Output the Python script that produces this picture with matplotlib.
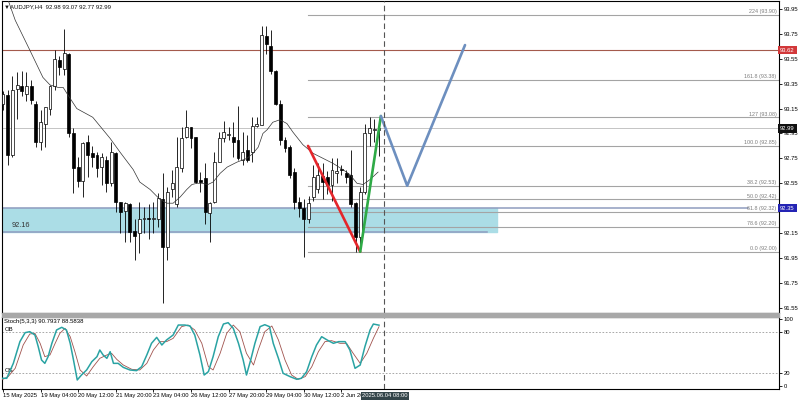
import matplotlib
matplotlib.use('Agg')
import matplotlib.pyplot as plt
import matplotlib.transforms as mtransforms
from matplotlib.patches import Rectangle

plt.rcParams['font.family'] = ['Liberation Sans', 'DejaVu Sans']

# H4 candles, index 0 = 15 May 2025 20:00
opens = [93.19, 93.26, 92.78, 93.31, 93.33, 93.27, 93.33, 93.19, 92.88, 93.03,
         93.15, 93.33, 93.54, 93.47, 93.59, 92.95, 92.68, 92.57, 92.88, 92.79,
         92.78, 92.68, 92.74, 92.55, 92.79, 92.40, 92.33, 92.38, 92.17, 92.15,
         92.26, 92.27, 92.26, 92.26, 92.42, 92.04, 92.50, 92.38, 92.67, 92.92,
         93.00, 92.92, 92.58, 92.59, 92.31, 92.40, 92.72, 92.91, 92.94, 92.92,
         92.90, 92.74, 92.82, 92.80, 93.01, 93.02, 93.73, 93.65, 93.45, 93.19,
         92.90, 92.84, 92.64, 92.40, 92.35, 92.26, 92.44, 92.50, 92.61, 92.60,
         92.54, 92.63, 92.665, 92.635, 92.62, 92.39, 92.12, 92.48, 92.95, 92.98,
         92.98]
highs = [93.29, 93.30, 93.41, 93.44, 93.45, 93.44, 93.38, 93.21, 93.14, 93.16,
         93.34, 93.62, 93.57, 93.79, 93.60, 92.99, 92.76, 92.88, 92.94, 92.85,
         92.80, 92.79, 92.77, 92.88, 92.80, 92.40, 92.40, 92.39, 92.26, 92.40,
         92.36, 92.38, 92.40, 92.47, 92.63, 92.52, 92.66, 92.92, 93.00, 93.14,
         93.00, 92.92, 92.64, 92.71, 92.40, 92.80, 92.96, 93.05, 93.00, 93.04,
         93.17, 92.96, 92.94, 93.08, 93.08, 93.81, 93.81, 93.78, 93.46, 93.22,
         92.92, 92.86, 92.67, 92.44, 92.42, 92.45, 92.70, 92.71, 92.71, 92.65,
         92.75, 92.75, 92.70, 92.66, 92.82, 92.40, 92.52, 93.03, 93.08, 93.07,
         93.07]
lows = [93.14, 92.70, 92.76, 93.07, 93.25, 93.21, 93.19, 92.84, 92.82, 92.84,
        93.10, 93.30, 93.42, 93.42, 92.92, 92.47, 92.52, 92.44, 92.60, 92.68,
        92.60, 92.54, 92.48, 92.53, 92.32, 92.15, 92.08, 92.08, 91.93, 91.99,
        92.15, 92.10, 92.15, 92.20, 91.59, 91.93, 92.44, 92.36, 92.64, 92.91,
        92.83, 92.55, 92.48, 92.22, 92.08, 92.39, 92.72, 92.88, 92.90, 92.76,
        92.74, 92.70, 92.72, 92.72, 93.00, 93.02, 93.59, 93.43, 93.18, 92.86,
        92.80, 92.59, 92.34, 92.28, 91.96, 92.23, 92.41, 92.47, 92.42, 92.46,
        92.41, 92.55, 92.62, 92.55, 92.36, 92.00, 92.05, 92.46, 92.85, 92.88,
        92.77]
closes = [93.27, 92.78, 93.30, 93.34, 93.29, 93.33, 93.22, 92.88, 93.04, 93.16,
          93.33, 93.55, 93.48, 93.60, 92.95, 92.67, 92.57, 92.87, 92.78, 92.76,
          92.67, 92.76, 92.55, 92.80, 92.40, 92.32, 92.39, 92.16, 92.13, 92.26,
          92.27, 92.26, 92.27, 92.43, 92.04, 92.48, 92.55, 92.68, 92.91, 93.00,
          92.91, 92.56, 92.56, 92.32, 92.39, 92.72, 92.91, 92.96, 92.94, 92.88,
          92.75, 92.80, 92.74, 93.01, 93.03, 93.74, 93.67, 93.45, 93.19, 92.90,
          92.83, 92.62, 92.40, 92.35, 92.26, 92.39, 92.60, 92.62, 92.56, 92.54,
          92.66, 92.65, 92.655, 92.60, 92.38, 92.12, 92.48, 92.95, 92.99, 92.98,
          92.99]

# moving average
ma_x = [0, 1.1, 2.6, 5.7, 8.5, 10.0, 11.7, 12.8, 13.8, 15.7, 19.1, 22.8, 24.9,
        27.7, 29.1, 31.3, 33.4, 34.9, 36.2, 37.7, 39.1, 40.2, 41.3, 42.3, 43.6,
        44.7, 46.2, 47.7, 49.8, 51.9, 53.2, 54.3, 55.3, 56.2, 57.4, 58.9, 60.4,
        61.7, 63.8, 66.0, 68.1, 70.2, 72.3, 73.8, 75.3, 76.6, 78.1, 79.8]
ma_y = [94.12, 94.02, 93.86, 93.62, 93.40, 93.34, 93.32, 93.32, 93.26, 93.15,
        93.08, 92.91, 92.80, 92.66, 92.56, 92.50, 92.42, 92.39, 92.39, 92.44,
        92.50, 92.54, 92.55, 92.55, 92.54, 92.56, 92.63, 92.68, 92.72, 92.75,
        92.79, 92.84, 92.95, 92.98, 93.04, 93.06, 93.03, 92.96, 92.86, 92.79,
        92.75, 92.71, 92.66, 92.62, 92.55, 92.54, 92.58, 92.64]

# stochastic (5,3,3)
k_x = [-0.3, 0.8, 2.2, 3.6, 4.7, 5.7, 6.8, 7.5, 8.2, 8.9, 9.6, 10.4, 11.4, 12.5,
       13.5, 14.3, 15.0, 15.8, 16.7, 17.8, 18.9, 20.0, 20.6, 21.3, 22.1, 22.8,
       23.5, 24.5, 25.6, 27.0, 28.4, 29.5, 30.6, 31.6, 32.7, 33.8, 34.8, 36.2,
       37.3, 38.7, 39.8, 40.8, 41.9, 42.8, 43.7, 44.7, 45.8, 46.9, 47.9, 49.0,
       50.1, 51.1, 51.8, 52.7, 53.6, 54.7, 55.7, 56.7, 57.5, 58.6, 59.6, 61.1,
       62.5, 63.5, 64.6, 65.7, 66.7, 67.8, 69.2, 70.3, 71.4, 72.8, 73.8, 74.9,
       76.0, 77.0, 78.1, 78.8, 80.0]
k_val = [11.5, 11.5, 33.8, 66.2, 79.6, 81.1, 76.1, 58.7, 38.8, 33.8, 43.8, 63.7,
         83.6, 87.6, 83.6, 63.7, 38.8, 9.0, 16.4, 23.9, 36.3, 43.8, 53.7, 46.3,
         41.3, 51.2, 33.8, 33.8, 27.8, 23.9, 22.9, 28.8, 46.3, 63.7, 72.6, 61.2,
         68.7, 76.1, 91.0, 91.0, 89.6, 76.1, 46.3, 16.4, 21.4, 43.8, 73.6, 92.5,
         94.5, 86.1, 63.7, 38.8, 16.4, 38.8, 63.7, 88.6, 91.5, 88.6, 63.7, 41.3,
         18.9, 13.9, 10.0, 11.5, 21.4, 43.8, 61.2, 73.6, 67.7, 63.7, 66.2, 66.2,
         53.7, 26.4, 31.3, 58.7, 83.6, 92.5, 90.8]
d_x = [-0.3, 1.1, 2.6, 4.3, 5.7, 6.8, 7.9, 8.9, 10.0, 11.1, 12.1, 13.2, 14.3,
       15.3, 16.4, 17.8, 19.2, 20.6, 22.1, 23.1, 24.2, 25.6, 27.4, 29.1, 30.6,
       32.0, 33.4, 34.8, 36.2, 38.0, 39.4, 40.8, 42.3, 43.7, 44.7, 46.2, 47.6,
       49.0, 50.4, 51.8, 53.3, 54.3, 55.7, 57.2, 58.6, 60.0, 61.4, 62.8, 64.3,
       65.7, 67.1, 68.5, 69.9, 71.7, 73.1, 74.5, 76.0, 77.4, 78.8, 80.0]
d_val = [9.0, 14.0, 26.4, 61.2, 77.6, 78.6, 63.7, 43.8, 46.3, 63.7, 78.6, 86.1,
         73.6, 51.2, 23.9, 14.9, 28.8, 41.3, 46.3, 48.8, 39.8, 31.3, 24.9, 23.9,
         33.8, 53.7, 66.2, 66.2, 71.1, 88.6, 91.0, 83.6, 63.7, 28.8, 23.9, 48.8,
         78.6, 91.0, 81.1, 48.8, 31.3, 53.7, 81.1, 89.6, 68.7, 38.8, 16.4, 10.0,
         14.0, 28.8, 51.2, 66.2, 67.7, 63.7, 63.7, 48.8, 33.8, 48.8, 71.1, 88.58]

fib_levels = [93.90, 93.38, 93.08, 92.85, 92.53, 92.42, 92.32, 92.20, 92.00]
fib_names = ['224', '161.8', '127', '100.0', '38.2', '50.0', '61.8', '78.6', '0.0']
fib_start = 64.9

zone_low, zone_high = 92.16, 92.35
zone_end = 105.1
resistance = 93.62
last_price = 92.99

red_x, red_y = [64.9, 76.0], [92.85, 92.00]
green_x, green_y = [76.0, 80.4], [92.00, 93.09]
proj_x, proj_y = [80.4, 86.0, 98.3], [93.09, 92.53, 93.66]

cursor_idx = 81
tick_idx = [0, 8, 16, 24, 32, 40, 48, 56, 64, 72]
tick_labels = ['15 May 2025', '19 May 04:00', '20 May 12:00', '21 May 20:00',
               '23 May 04:00', '26 May 12:00', '27 May 20:00', '29 May 04:00',
               '30 May 12:00', '2 Jun 20:00']
price_ticks = [93.95, 93.75, 93.55, 93.35, 93.15, 92.95, 92.75, 92.55, 92.35,
               92.15, 91.95, 91.75, 91.55]

W, H = 800, 401
fig = plt.figure(figsize=(8, 4.01), dpi=100)
ax = fig.add_axes([2 / W, (H - 313) / H, 777 / W, 312 / H])
ax2 = fig.add_axes([2 / W, (H - 389) / H, 777 / W, 72 / H])
fig.patches.append(Rectangle((2 / W, (H - 317) / H), 777 / W, 4 / H,
                             transform=fig.transFigure, color='#a8a8a8'))

fs = 4.2
xlim = (-0.21, 165.1)

# zone
ax.fill_between([-1, zone_end], zone_low, zone_high, color='#abdde6', zorder=1)
ax.plot([-1, 158.5], [zone_high] * 2, color='#8f9cbf', lw=1.1, zorder=2)
ax.plot([-1, 103.0], [zone_low] * 2, color='#8f9cbf', lw=1.1, zorder=2)
ax.text(1.9, 92.207, '92.16', fontsize=5.3, color='#333333', va='center', zorder=3)

# horizontal lines
ax.axhline(resistance, color='#a45a4c', lw=0.8, zorder=2)
ax.axhline(last_price, color='#c4c4c4', lw=0.7, zorder=1)
for lvl, name in zip(fib_levels, fib_names):
    ax.plot([fib_start, 165.1], [lvl, lvl], color='#a4a4a4', lw=0.8, zorder=2)
    ax.text(164.6, lvl + 0.006, f'{name} ({lvl:.2f})', fontsize=3.9,
            color='#7c7c7c', ha='right', va='bottom', zorder=3)

# candles
n = len(opens)
for i in range(n):
    o, h, l, c = opens[i], highs[i], lows[i], closes[i]
    ax.vlines(i, l, h, color='black', lw=0.6, zorder=4)
    bottom = min(o, c)
    height = max(abs(c - o), 0.006)
    face = 'white' if c >= o else 'black'
    ax.bar(i, height, bottom=bottom, width=0.62, color=face,
           edgecolor='black', linewidth=0.5, zorder=5)

ax.plot(ma_x, ma_y, color='#333333', lw=0.5, zorder=6)

# pattern lines
ax.plot(red_x, red_y, color='#e5262b', lw=1.9, zorder=7, solid_capstyle='round')
ax.plot(green_x, green_y, color='#2eaa46', lw=1.9, zorder=7, solid_capstyle='round')
ax.plot(proj_x, proj_y, color='#6d8fbf', lw=1.9, zorder=7, solid_capstyle='round')

ax.axvline(cursor_idx, color='#555555', lw=0.8, ls=(0, (5, 3)), zorder=8)

ax.set_xlim(*xlim)
ax.set_ylim(91.508, 94.014)
ax.set_xticks([])
ax.yaxis.tick_right()
ax.set_yticks(price_ticks)
ax.set_yticklabels(['' if p == zone_high else f'{p:.2f}' for p in price_ticks])
ax.tick_params(axis='y', labelsize=fs, length=2, width=0.6, pad=1.5)

trans = mtransforms.blended_transform_factory(ax.transAxes, ax.transData)
for val, bg in [(resistance, '#d2383a'), (last_price, '#111111'), (zone_high, '#2424b4')]:
    ax.text(1.0015, val, f'{val:.2f}', transform=trans, fontsize=fs, color='white',
            va='center', ha='left', clip_on=False, zorder=10,
            bbox=dict(boxstyle='square,pad=0.3', facecolor=bg, edgecolor='none'))

ax.text(0.003, 0.988, '\u25bcAUDJPY,H4  92.98 93.07 92.77 92.99', transform=ax.transAxes,
        fontsize=4.3, va='top', ha='left', color='#111111')

for sp in ax.spines.values():
    sp.set_linewidth(0.8)

# stochastic panel
ax2.axhline(80, color='#9a9a9a', lw=0.6, ls=(0, (2, 2)))
ax2.axhline(20, color='#9a9a9a', lw=0.6, ls=(0, (2, 2)))
ax2.plot(d_x, d_val, color='#a0524d', lw=0.6, zorder=3)
ax2.plot(k_x, k_val, color='#2aa3a3', lw=1.1, zorder=4)
ax2.axvline(cursor_idx, color='#555555', lw=0.8, ls=(0, (5, 3)), zorder=8)
ax2.set_xlim(*xlim)
ax2.set_ylim(-4.5, 103)
ax2.yaxis.tick_right()
ax2.set_yticks([0, 20, 80, 100])
ax2.tick_params(axis='y', labelsize=fs, length=2, width=0.6, pad=1.5)
ax2.set_xticks(tick_idx)
ax2.set_xticklabels(tick_labels, ha='left')
ax2.tick_params(axis='x', labelsize=fs, length=2, width=0.6, pad=1.2)
ax2.text(0.003, 0.97, 'Stoch(5,3,3) 90.7937 88.5838', transform=ax2.transAxes,
         fontsize=4.3, va='top', ha='left')
side = mtransforms.blended_transform_factory(ax2.transAxes, ax2.transData)
ax2.text(0.003, 80, 'OB', transform=side, fontsize=4.3, va='bottom', ha='left')
ax2.text(0.003, 20, 'OS', transform=side, fontsize=4.3, va='bottom', ha='left')
ax2.text(cursor_idx + 0.3, -0.06, '2025.06.04 08:00',
         transform=mtransforms.blended_transform_factory(ax2.transData, ax2.transAxes),
         fontsize=fs, color='white', ha='center', va='top', clip_on=False, zorder=10,
         bbox=dict(boxstyle='square,pad=0.25', facecolor='#34454a', edgecolor='none'))
for sp in ax2.spines.values():
    sp.set_linewidth(0.8)

fig.savefig('out.png', dpi=100, facecolor='white')
